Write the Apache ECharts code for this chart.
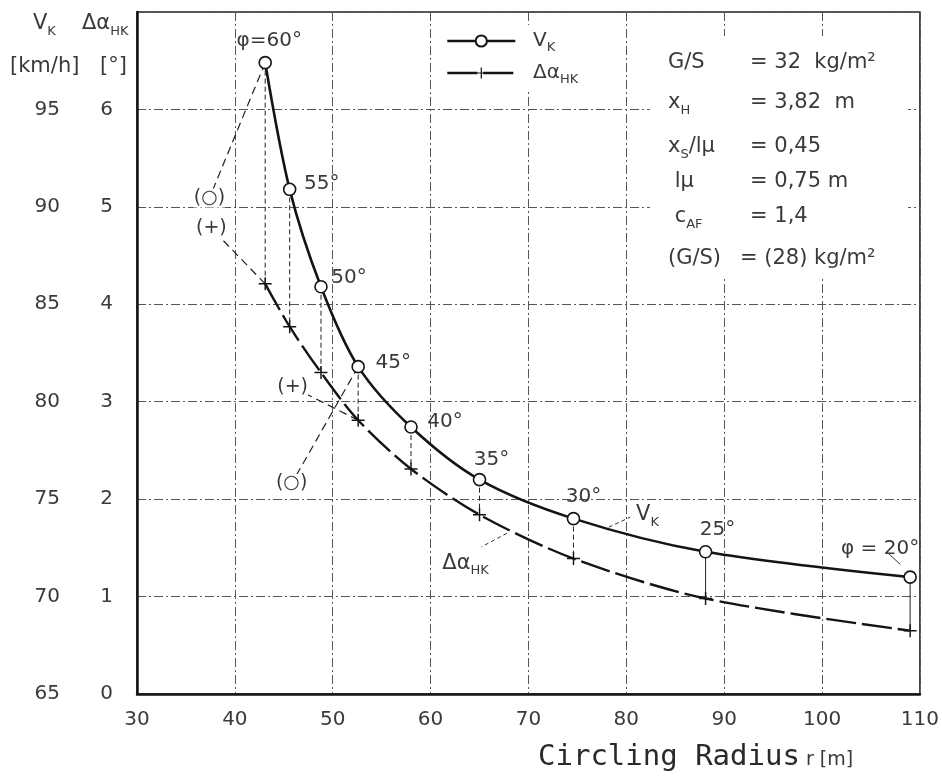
<!DOCTYPE html>
<html><head><meta charset="utf-8">
<script src="https://cdn.jsdelivr.net/npm/echarts@6/dist/echarts.min.js"></script>
<style>html,body{margin:0;padding:0;background:#fff}#c{width:942px;height:780px}</style>
</head><body><div id="c"></div>
<script>
// ---- data ----
const radius   = [43.1, 45.6, 48.8, 52.6, 58.0, 65.0, 74.6, 88.1, 109.0];
const bankAngle = ['φ=60°', '55°', '50°', '45°', '40°', '35°', '30°', '25°', 'φ = 20°'];
const vK       = [97.4, 90.9, 85.9, 81.8, 78.7, 76.0, 74.0, 72.3, 71.0];   // km/h
const dAlpha   = [4.21, 3.77, 3.30, 2.81, 2.31, 1.84, 1.39, 0.98, 0.65];   // deg
// G/S = 28 kg/m2 points (at phi = 60 and 45 deg)
const idx28    = [0, 3];
const radius28 = [37.4, 45.8];
const vK28     = [90.45, 75.8];
const dRadius28 = [37.6, 45.9];
const dAlpha28 = [4.78, 3.15];
const xTicks   = [30, 40, 50, 60, 70, 80, 90, 100, 110];
const vTicks   = [65, 70, 75, 80, 85, 90, 95];
const aTicks   = [0, 1, 2, 3, 4, 5, 6];

// ---- layout / style ----
const angleLabelOffset = [[4,-22],[32,-6],[28,-9],[35,-4],[34,-5],[12,-20],[10,-22],[12,-22],[-30,-28]];
const FONT = "'DejaVu Sans',sans-serif";
const TXT = '#3a3a3a';
const INK = '#141414';
const plusPath = 'path://M4.45,0H5.55V4.45H10V5.55H5.55V10H4.45V5.55H0V4.45H4.45Z';

const chart = echarts.init(document.getElementById('c'));

const toA = v => (v - 65) / 5;

const series = [];
series.push({
  name: 'VK', type: 'line', yAxisIndex: 1, z: 6,
  smooth: 0.3, symbol: 'circle', symbolSize: 12,
  lineStyle: { color: INK, width: 2.6 },
  itemStyle: { color: '#fff', borderColor: INK, borderWidth: 1.6 },
  label: { show: true, position: 'inside', color: TXT, fontFamily: FONT, fontSize: 20,
           formatter: p => bankAngle[p.dataIndex] },
  data: radius.map((r, i) => ({ value: [r, vK[i]], label: { offset: angleLabelOffset[i] } }))
});
series.push({
  name: 'dA', type: 'line', yAxisIndex: 0, z: 5,
  smooth: 0.3, symbol: plusPath, symbolSize: 13,
  lineStyle: { color: INK, width: 2.4, type: [30, 6] },
  itemStyle: { color: INK },
  data: radius.map((r, i) => [r, dAlpha[i]])
});
// vertical connectors between V_K point and its Δα point
series.push({
  type: 'custom', yAxisIndex: 0, z: 3, silent: true,
  data: radius.map((r, i) => [r, toA(vK[i]), dAlpha[i], i]),
  renderItem: (params, api) => {
    const p1 = api.coord([api.value(0), api.value(1)]);
    const p2 = api.coord([api.value(0), api.value(2)]);
    const solid = api.value(3) >= 7;
    return { type: 'line', shape: { x1: p1[0], y1: p1[1], x2: p2[0], y2: p2[1] },
      style: { stroke: '#222', lineWidth: 1, lineDash: solid ? null : [5, 3] } };
  }
});
// G/S = 28 dashed branches
idx28.forEach((k, j) => {
  series.push({
    type: 'line', yAxisIndex: 1, z: 4, symbol: 'circle', symbolSize: 1,
    itemStyle: { color: 'rgba(0,0,0,0)' },
    lineStyle: { color: '#222', width: 1.2, type: [8, 5] },
    data: [[radius[k], vK[k]],
           { value: [radius28[j], vK28[j]],
             label: { show: true, position: 'inside', formatter: '(○)', color: TXT, fontFamily: FONT,
                      fontSize: 19, backgroundColor: '#fff' } }]
  });
  series.push({
    type: 'line', yAxisIndex: 0, z: 4, symbol: 'circle', symbolSize: 1,
    itemStyle: { color: 'rgba(0,0,0,0)' },
    lineStyle: { color: '#222', width: 1.2, type: [8, 5] },
    data: [[radius[k], dAlpha[k]],
           { value: [dRadius28[j], dAlpha28[j]],
             label: { show: true, position: 'inside', formatter: '(+)', color: TXT, fontFamily: FONT,
                      fontSize: 19, backgroundColor: '#fff' } }]
  });
});

const splitStyle = { show: true, lineStyle: { color: '#555', width: 1, type: [9, 3, 2, 3] } };

const option = {
  animation: false,
  backgroundColor: '#fff',
  grid: { left: 137, right: 16, top: 12, bottom: 86, show: true, borderColor: '#222', borderWidth: 1.5 },
  legend: {
    left: 440, top: 25, orient: 'vertical', itemWidth: 68, itemHeight: 14, itemGap: 9,
    backgroundColor: '#fff', padding: [6, 12, 6, 6],
    data: ['VK', 'dA'],
    lineStyle: { width: 2.6 },
    formatter: n => n === 'VK' ? '  {m|V}{s|K}' : '  {m|Δα}{s|HK}',
    textStyle: { color: TXT, fontFamily: FONT, fontSize: 20,
      rich: { m: { fontSize: 20, lineHeight: 26, color: TXT, fontFamily: FONT },
              s: { fontSize: 13, verticalAlign: 'bottom', color: TXT, fontFamily: FONT } } }
  },
  xAxis: {
    type: 'value', min: xTicks[0], max: xTicks[xTicks.length - 1], interval: 10,
    axisLine: { lineStyle: { color: INK, width: 2.5 } }, axisTick: { show: false },
    axisLabel: { color: TXT, fontFamily: FONT, fontSize: 20, margin: 16,
                 formatter: v => xTicks.includes(v) ? String(v) : '' },
    splitLine: splitStyle
  },
  yAxis: [
    { type: 'value', min: 0, max: 7, interval: 1, position: 'left',
      axisLine: { show: true, lineStyle: { color: INK, width: 2.5 } }, axisTick: { show: false },
      axisLabel: { color: TXT, fontFamily: FONT, fontSize: 20, margin: 24,
                   formatter: v => aTicks.includes(v) ? String(v) : '' },
      splitLine: splitStyle },
    { type: 'value', min: 65, max: 100, interval: 5, position: 'left',
      axisLine: { show: false }, axisTick: { show: false }, splitLine: { show: false },
      axisLabel: { color: TXT, fontFamily: FONT, fontSize: 20, margin: 77,
                   formatter: v => vTicks.includes(v) ? String(v) : '' } }
  ],
  series
};
chart.setOption(option);

// ---- annotations (positions from the axes) ----
const px = (x, a) => chart.convertToPixel({ xAxisIndex: 0, yAxisIndex: 0 }, [x, a]);
const richG = {
  n: { fontSize: 21, lineHeight: 28, fill: TXT, fontFamily: FONT },
  s: { fontSize: 13, verticalAlign: 'bottom', fill: TXT, fontFamily: FONT }
};
const txt = (text, x, y, extra) => Object.assign({
  type: 'text', z: 10, x, y,
  style: Object.assign({ text, fill: TXT, font: `21px ${FONT}`, verticalAlign: 'middle', rich: richG }, extra || {})
});
const leader = (a, b) => ({ type: 'line', z: 10,
  shape: { x1: a[0], y1: a[1], x2: b[0], y2: b[1] }, style: { stroke: '#333', lineWidth: 1, lineDash: [4, 3] } });

const infoLeft = ['{n|G/S}', '{n|x}{s|H}', '{n|x}{s|S}{n|/lμ}', '{n| lμ}', '{n| c}{s|AF}', '{n|(G/S)}'];
const infoRight = ['= 32  kg/m²', '= 3,82  m', '= 0,45', '= 0,75 m', '= 1,4', '= (28) kg/m²'];
const infoY = [63, 103, 147, 182, 217, 259];

const g = [];
g.push({ type: 'rect', z: 1, shape: { x: 650, y: 36, width: 258, height: 240 }, style: { fill: '#fff' } });
infoLeft.forEach((t, i) => {
  g.push(txt(t, 668, infoY[i]));
  g.push(txt(infoRight[i], i === 5 ? 740 : 750, infoY[i]));
});
// axis headers
g.push(txt('{n|V}{s|K}', 33, 24));
g.push(txt('{n|Δα}{s|HK}', 82, 24));
g.push(txt('[km/h]', 10, 67));
g.push(txt('[°]', 100, 67));
// x axis title
g.push(txt('{a|Circling Radius}{b| r [m]}', 538, 757, {
  rich: { a: { fontSize: 29, fontFamily: "'DejaVu Sans Mono',monospace", fill: '#2a2a2a' },
          b: { fontSize: 19, fontFamily: FONT, fill: TXT, padding: [6, 0, 0, 0] } } }));
// curve labels with leaders
const pv1 = px(78.2, 1.712), pv2 = px(80.4, 1.815), pvT = px(81.0, 1.84);
g.push(leader(pv1, pv2));
g.push(txt('{n|V}{s|K}', pvT[0], pvT[1]));
const pa1 = px(67.8, 1.65), pa2 = px(65.2, 1.51), paT = px(61.2, 1.34);
g.push(leader(pa1, pa2));
g.push(txt('{n|Δα}{s|HK}', paT[0], paT[1]));
const pp1 = px(108.0, 1.33), pp2 = px(106.7, 1.45);
g.push({ type: 'line', z: 10, shape: { x1: pp1[0], y1: pp1[1], x2: pp2[0], y2: pp2[1] }, style: { stroke: '#333', lineWidth: 1 } });

chart.setOption({ graphic: g });
</script></body></html>
